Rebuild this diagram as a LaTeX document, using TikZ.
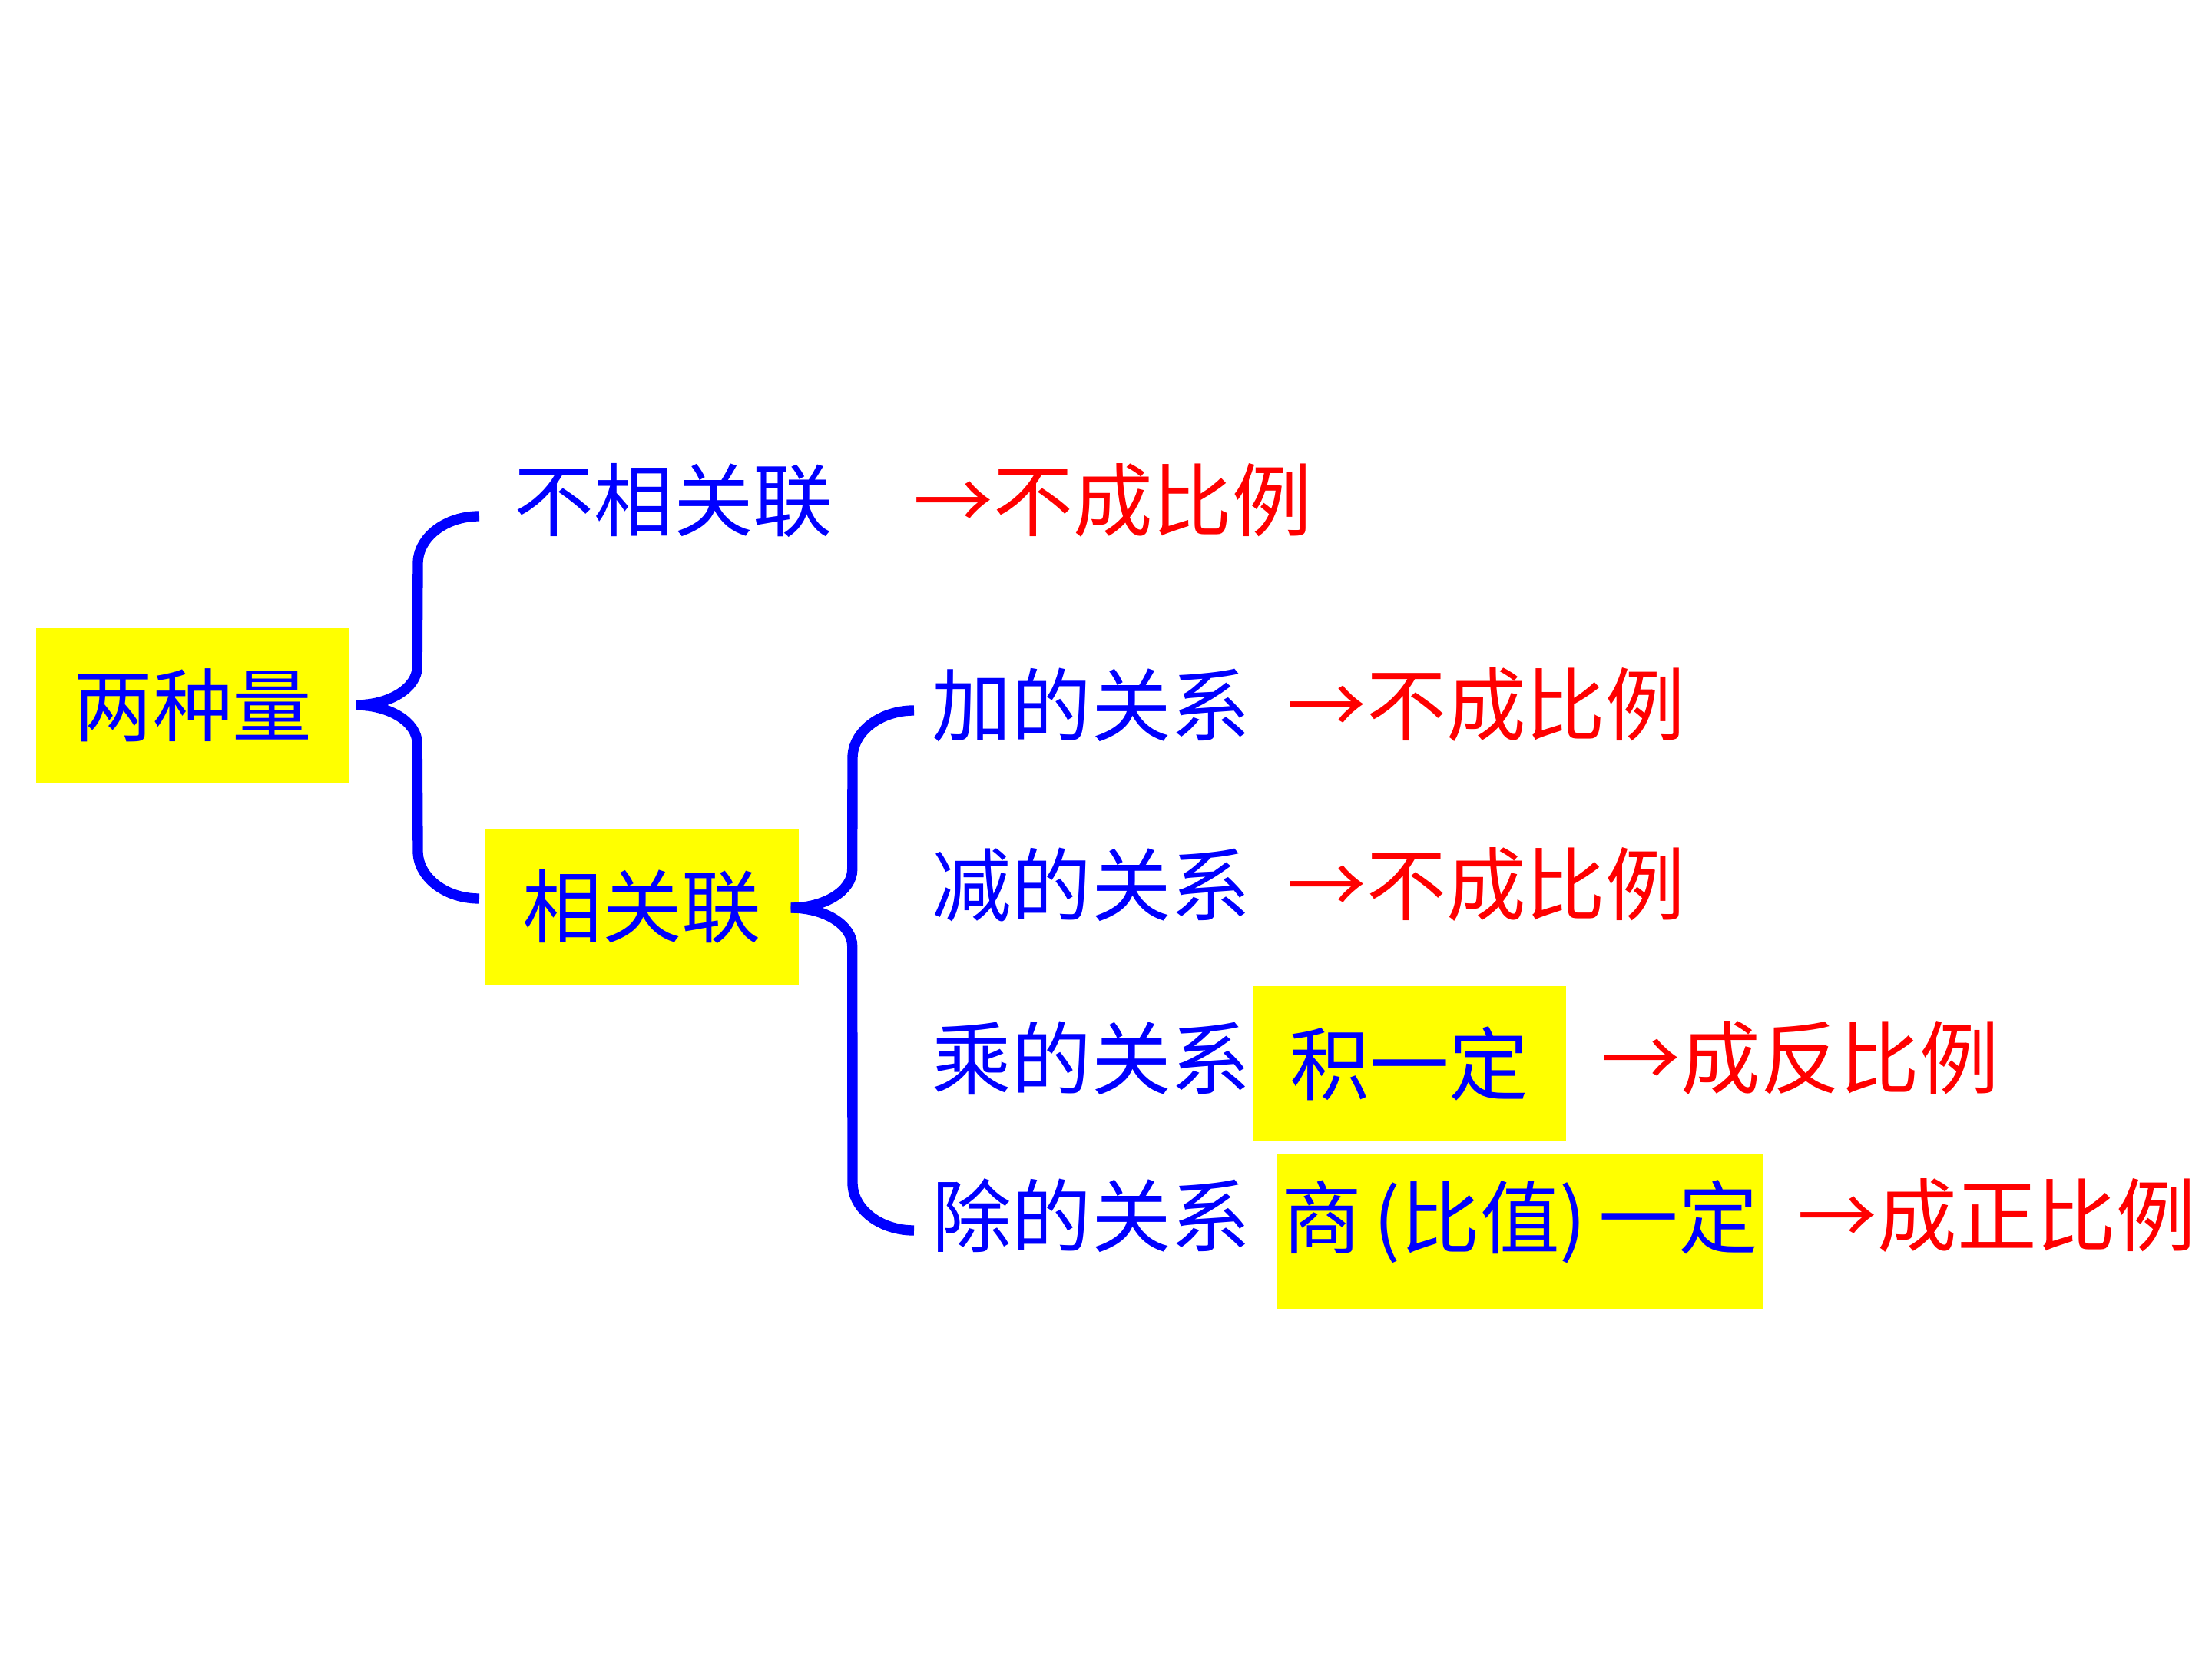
\documentclass[tikz,border=0pt]{standalone}
\usepackage{fontspec}
\setmainfont{Noto Sans CJK SC}
\usetikzlibrary{positioning, calc}
\definecolor{cblue}{HTML}{0000FF}
\definecolor{cred}{HTML}{FF0000}
\definecolor{cyel}{HTML}{FFFF00}
\tikzset{
  every picture/.style={font=\fontsize{29.5}{35}\selectfont},
  txt/.style={text=cblue, inner sep=0pt},
  res/.style={text=cred, inner sep=0pt},
  hl/.style={fill=cyel, text=cblue, inner sep=0pt, minimum height=2.02cm},
  brace/.style={draw=cblue, line width=3.8pt},
  curl/.style={x radius=0.8cm, y radius=0.5cm},
  hook/.style={x radius=0.8cm, y radius=0.62cm},
}

\begin{document}
\begin{tikzpicture}
  \useasboundingbox (0,0) rectangle (28.8,-21.6);
  % root
  \node[hl, minimum width=4.07cm] (lz) at (2.51,-9.18) {两种量};
  % first level
  \node[txt] (nrel) at (8.77,-6.52) {不相关联};
  \node[res] (nres) at (14.49,-6.52) {→不成比例};
  \node[hl, minimum width=4.08cm] (xg) at (8.36,-11.81) {相关联};
  \coordinate (b1t) at (6.24,-6.72);
  \coordinate (b1b) at (6.24,-11.70);
  \draw[brace] (lz.east) ++(0.08,0) arc[start angle=270, end angle=360, curl]
    -- ($(b1t)+(-0.8,-0.62)$) arc[start angle=180, end angle=90, hook];
  \draw[brace] (lz.east) ++(0.08,0) arc[start angle=90, end angle=0, curl]
    -- ($(b1b)+(-0.8,0.62)$) arc[start angle=180, end angle=270, hook];
  % second level: name, y, text
  \foreach \n/\y/\t in {add/9.18/加的关系, sub/11.52/减的关系, mul/13.78/乘的关系, div/15.83/除的关系} {
    \node[txt] (\n) at (14.21,-\y) {\t};
  }
  \node[res] (addres) at (19.35,-9.18) {→不成比例};
  \node[res] (subres) at (19.35,-11.52) {→不成比例};
  \node[hl, minimum width=4.08cm] (mulk) at (18.35,-13.85) {积一定};
  \node[res] (mulres) at (23.44,-13.78) {→成反比例};
  \node[hl, minimum width=6.34cm, text height=0.8cm, text depth=0.38cm] (divk) at (19.79,-16.03)
    {商\hspace{0.15em}(比值)\hspace{0.15em}一定};
  \node[res] (divres) at (26.00,-15.83) {→成正比例};
  \coordinate (b2t) at (11.90,-9.25);
  \coordinate (b2b) at (11.90,-16.02);
  \draw[brace] (xg.east) ++(-0.11,-0.01) arc[start angle=270, end angle=360, curl]
    -- ($(b2t)+(-0.8,-0.62)$) arc[start angle=180, end angle=90, hook];
  \draw[brace] (xg.east) ++(-0.11,-0.01) arc[start angle=90, end angle=0, curl]
    -- ($(b2b)+(-0.8,0.62)$) arc[start angle=180, end angle=270, hook];
\end{tikzpicture}
\end{document}
